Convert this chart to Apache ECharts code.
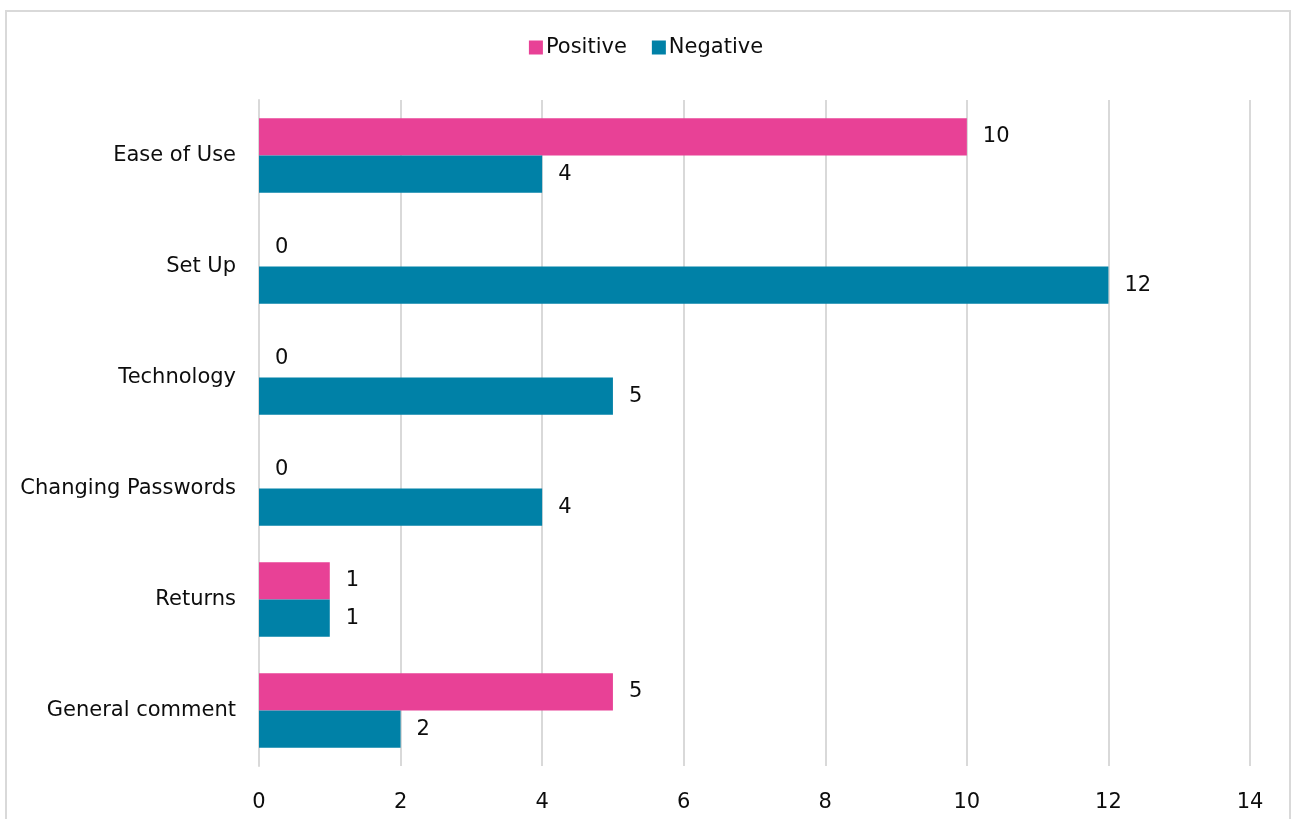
<!DOCTYPE html>
<html>
<head>
<meta charset="utf-8">
<script src="https://cdn.jsdelivr.net/npm/echarts@6/dist/echarts.min.js"></script>
<style>
html,body{margin:0;padding:0;background:#fff;}
#main{width:1292px;height:819px;}
</style>
</head>
<body>
<div id="main"></div>
<script>
const categories = ['Ease of Use', 'Set Up', 'Technology', 'Changing Passwords', 'Returns', 'General comment'];
const positiveValues = [10, 0, 0, 0, 1, 5];
const negativeValues = [4, 12, 5, 4, 1, 2];
const xTicks = [0, 2, 4, 6, 8, 10, 12, 14];

const FONT = 'DejaVu Sans';
const TXT = '#0d0d0d';
const FS = 21;
const chart = echarts.init(document.getElementById('main'), null, {renderer: 'canvas'});
const labelOpt = {
  show: true, position: 'right', distance: 16,
  color: TXT, fontFamily: FONT, fontSize: FS
};
chart.setOption({
  animation: false,
  backgroundColor: '#fff',
  textStyle: {fontFamily: FONT},
  graphic: [{
    type: 'rect', x: 0, y: 0,
    shape: {x: 6, y: 11, width: 1284, height: 830},
    style: {fill: 'none', stroke: '#d9d9d9', lineWidth: 2},
    silent: true, z: -10
  }],
  legend: {
    top: 32, left: 'center',
    itemWidth: 14, itemHeight: 14, itemGap: 25,
    icon: 'rect',
    textStyle: {color: TXT, fontFamily: FONT, fontSize: FS, padding: [0, 0, 0, -2]},
    data: ['Positive', 'Negative']
  },
  grid: {left: 259, right: 42, top: 100, bottom: 53, containLabel: false},
  xAxis: {
    type: 'value', min: xTicks[0], max: xTicks[xTicks.length - 1], interval: 2,
    axisLine: {show: false}, axisTick: {show: false},
    splitLine: {show: true, lineStyle: {color: '#d9d9d9', width: 2}},
    axisLabel: {color: TXT, fontFamily: FONT, fontSize: FS, margin: 26}
  },
  yAxis: {
    type: 'category', data: categories, inverse: true,
    axisLine: {show: true, lineStyle: {color: '#d9d9d9', width: 2}},
    axisTick: {show: false},
    axisLabel: {color: TXT, fontFamily: FONT, fontSize: FS, margin: 23}
  },
  series: [
    {name: 'Positive', type: 'bar', data: positiveValues, barGap: '0%', barCategoryGap: '33%',
     itemStyle: {color: '#E84196'}, label: labelOpt},
    {name: 'Negative', type: 'bar', data: negativeValues, barGap: '0%', barCategoryGap: '33%',
     itemStyle: {color: '#0081A7'}, label: labelOpt}
  ]
});
</script>
</body>
</html>
